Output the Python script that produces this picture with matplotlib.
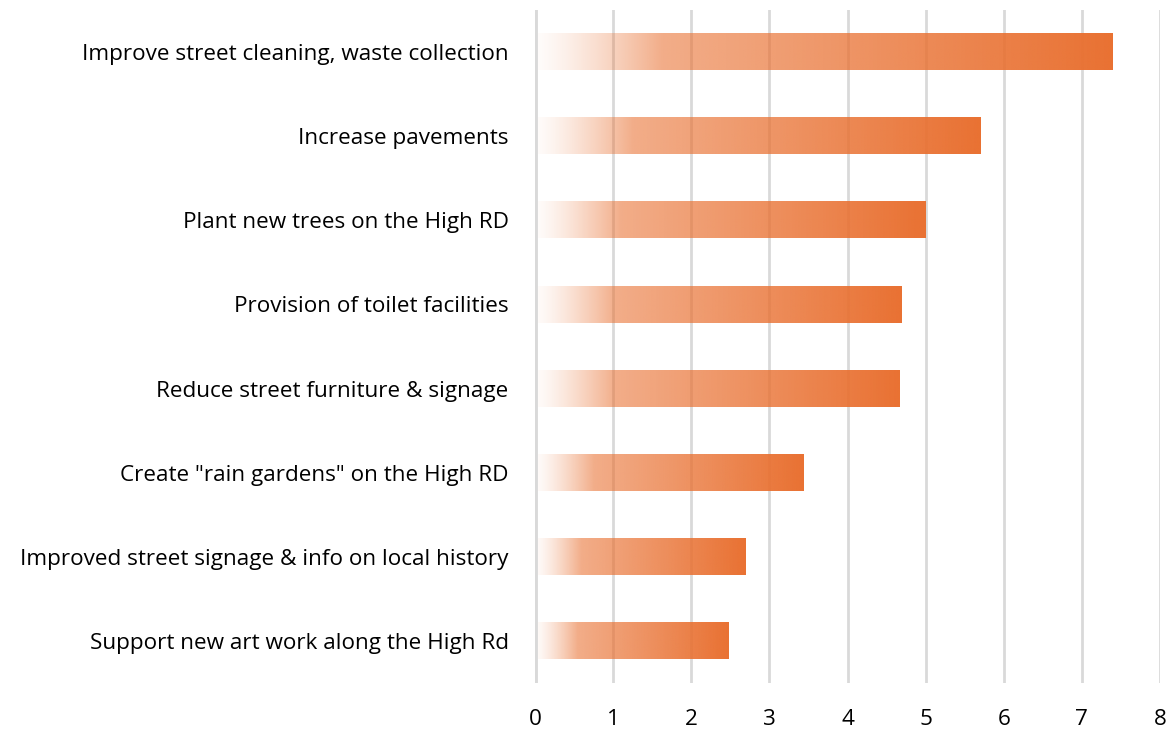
import numpy as np
import matplotlib.pyplot as plt
from matplotlib.colors import to_rgb

# 数据
categories = ['Improve street cleaning, waste collection', 'Increase pavements',
              'Plant new trees on the High RD', 'Provision of toilet facilities',
              'Reduce street furniture & signage', 'Create "rain gardens" on the High RD',
              'Improved street signage & info on local history',
              'Support new art work along the High Rd']
values = [7.39, 5.70, 5.00, 4.69, 4.66, 3.44, 2.70, 2.48]
xticks = [0, 1, 2, 3, 4, 5, 6, 7, 8]

plt.rcParams['font.family'] = ['Open Sans', 'DejaVu Sans']

fig = plt.figure(figsize=(11.7, 7.31), dpi=100)
ax = fig.add_axes([0.4573, 0.0657, 0.5342, 0.9206])

n = len(categories)
ypos = np.arange(n)[::-1]
h = 0.43

# 渐变色 (透明 -> 橙色)
orange = np.array(to_rgb('#E97132'))
t = np.linspace(0, 1, 400)
alpha = np.where(t < 0.22, 0.02 + (0.58 - 0.02) * (t / 0.22) ** 1.3,
                 0.58 + 0.42 * (t - 0.22) / 0.78)
grad = np.zeros((1, len(t), 4))
grad[0, :, :3] = orange
grad[0, :, 3] = alpha

for y, v in zip(ypos, values):
    ax.imshow(grad, extent=[0, v, y - h / 2, y + h / 2], aspect='auto',
              interpolation='bilinear', zorder=2)

ax.set_xlim(0, 8)
ax.set_ylim(-0.5, n - 0.5)
ax.set_xticks(xticks)
ax.set_yticks(ypos)
ax.set_yticklabels(categories)
for xv in xticks[1:]:
    ax.axvline(xv, color='#D9D9D9', lw=2, zorder=1)
ax.axvline(0, color='#D9D9D9', lw=3.5, zorder=3)

for s in ax.spines.values():
    s.set_visible(False)
ax.tick_params(axis='both', length=0, labelsize=16.2, colors='black')
ax.tick_params(axis='y', pad=19)
ax.tick_params(axis='x', pad=19)

plt.savefig('out.png', dpi=100)
